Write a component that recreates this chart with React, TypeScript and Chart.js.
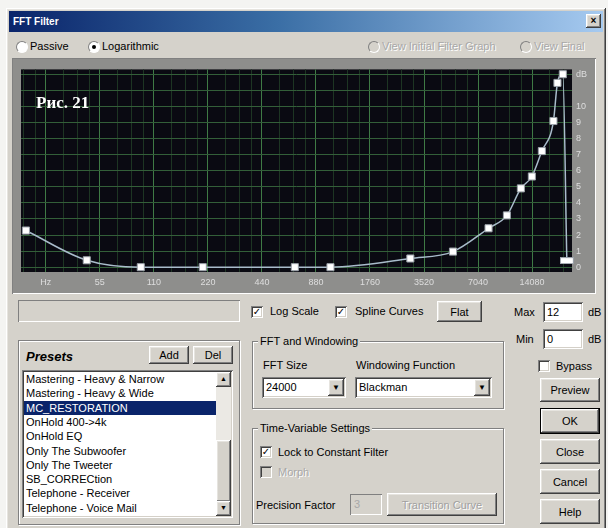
import React, { useEffect, useRef } from "react";
import { Chart, registerables } from "chart.js";
Chart.register(...registerables);

// ---- chart data ----
const freqHz = [21.3, 46.5, 93, 206, 671, 1060, 2954, 5104, 8055, 10194, 12196, 14042, 15964, 18524, 19500, 20889, 21992];
const gainDb = [2.28, 0.43, 0, 0, 0, 0, 0.54, 0.97, 2.42, 3.22, 4.9, 5.64, 7.22, 9.09, 11.46, 12, 0.41];
const octaveTicks = [27.5, 55, 110, 220, 440, 880, 1760, 3520, 7040, 14080];
const octaveLabels = ["Hz", "55", "110", "220", "440", "880", "1760", "3520", "7040", "14080"];
const minorSteps = [1.25, 1.5, 1.75];
const dbTicks = [0, 1, 2, 3, 4, 5, 6, 7, 8, 9, 10, 11, 12];
const dbLabels = ["0", "1", "2", "3", "4", "5", "6", "7", "8", "9", "10", "", "dB"];
const presets = [
  "Mastering - Heavy & Narrow",
  "Mastering - Heavy & Wide",
  "MC_RESTORATION",
  "OnHold 400->4k",
  "OnHold EQ",
  "Only The Subwoofer",
  "Only The Tweeter",
  "SB_CORRECtion",
  "Telephone - Receiver",
  "Telephone - Voice Mail",
];
const selectedPreset = "MC_RESTORATION";

const X_MIN = 20;
const X_MAX = 23500;

const FONT = "'Liberation Sans', Arial, sans-serif";
const FACE = "#d5d2cb";

const abs = (x: number, y: number, w?: number, h?: number): React.CSSProperties => ({
  position: "absolute",
  left: x,
  top: y,
  width: w,
  height: h,
  boxSizing: "border-box",
});

const raised: React.CSSProperties = {
  background: FACE,
  boxShadow: "inset -1px -1px #404040, inset 1px 1px #ffffff, inset -2px -2px #808080, inset 2px 2px #e6e4df",
};
const sunken: React.CSSProperties = {
  background: "#ffffff",
  boxShadow: "inset 1px 1px #808080, inset -1px -1px #ffffff, inset 2px 2px #404040, inset -2px -2px #d4d0c8",
};

function Txt(p: { x: number; y: number; children: React.ReactNode; style?: React.CSSProperties }) {
  return (
    <div style={{ ...abs(p.x, p.y), fontFamily: FONT, fontSize: 11, lineHeight: "13px", whiteSpace: "nowrap", color: "#000", ...p.style }}>
      {p.children}
    </div>
  );
}

function Btn(p: { x: number; y: number; w: number; h: number; label: string; def?: boolean; disabled?: boolean }) {
  return (
    <div
      style={{
        ...abs(p.x, p.y, p.w, p.h),
        ...raised,
        border: p.def ? "1px solid #000" : undefined,
        fontFamily: FONT,
        fontSize: 11,
        display: "flex",
        alignItems: "center",
        justifyContent: "center",
        color: p.disabled ? "#a0a0a0" : "#000",
        textShadow: p.disabled ? "1px 1px #fff" : undefined,
      }}
    >
      {p.label}
    </div>
  );
}

function Check(p: { x: number; y: number; checked?: boolean; disabled?: boolean }) {
  return (
    <div
      style={{
        ...abs(p.x, p.y, 12, 12),
        ...sunken,
        background: p.disabled ? FACE : "#fff",
        fontFamily: "'DejaVu Sans', sans-serif",
        fontSize: 10,
        lineHeight: "12px",
        textAlign: "center",
        fontWeight: "bold",
      }}
    >
      {p.checked ? "✓" : ""}
    </div>
  );
}

function Radio(p: { x: number; y: number; checked?: boolean; disabled?: boolean }) {
  return (
    <div
      style={{
        ...abs(p.x, p.y, 12, 12),
        borderRadius: 6,
        background: p.disabled ? FACE : "#fff",
        border: "1px solid",
        borderColor: "#808080 #fff #fff #808080",
      }}
    >
      {p.checked ? (
        <div style={{ ...abs(3, 3, 4, 4), borderRadius: 2, background: "#000" }} />
      ) : null}
    </div>
  );
}

function Group(p: { x: number; y: number; w: number; h: number; title: string }) {
  return (
    <>
      <div style={{ ...abs(p.x, p.y, p.w, p.h), border: "1px solid #808080", boxShadow: "1px 1px #fff, inset 1px 1px #fff" }} />
      {p.title ? (
        <Txt x={p.x + 6} y={p.y - 6} style={{ background: FACE, padding: "0 2px" }}>
          {p.title}
        </Txt>
      ) : null}
    </>
  );
}

function Combo(p: { x: number; y: number; w: number; value: string }) {
  return (
    <div style={{ ...abs(p.x, p.y, p.w, 21), ...sunken }}>
      <Txt x={4} y={4}>{p.value}</Txt>
      <div style={{ ...abs(p.w - 18, 2, 16, 17), ...raised, fontSize: 8, display: "flex", alignItems: "center", justifyContent: "center" }}>▼</div>
    </div>
  );
}

function FilterChart() {
  const ref = useRef<HTMLCanvasElement | null>(null);
  useEffect(() => {
    const canvas = ref.current;
    if (!canvas) return;

    const allTicks: { value: number; major: boolean }[] = [];
    const bases = [octaveTicks[0] / 2, ...octaveTicks];
    bases.forEach((b) => {
      if (b >= X_MIN && b <= X_MAX) allTicks.push({ value: b, major: octaveTicks.includes(b) });
      minorSteps.forEach((m) => {
        const v = b * m;
        if (v >= X_MIN && v <= X_MAX) allTicks.push({ value: v, major: false });
      });
    });
    allTicks.sort((a, b) => a.value - b.value);

    const wide = document.createElement("canvas");
    wide.width = 14;
    wide.height = 7;
    const wctx = wide.getContext("2d")!;
    wctx.fillStyle = "#ffffff";
    wctx.fillRect(0, 0, 14, 7);
    wctx.strokeStyle = "#9aa0a8";
    wctx.strokeRect(0.5, 0.5, 13, 6);

    const bgPlugin = {
      id: "bg",
      beforeDraw(chart: any) {
        const { ctx, chartArea } = chart;
        ctx.save();
        ctx.fillStyle = "#8e8e8c";
        ctx.fillRect(0, 0, chart.width, chart.height);
        ctx.fillStyle = "#0a0a12";
        ctx.fillRect(chartArea.left, chartArea.top, chartArea.right - chartArea.left, chartArea.bottom - chartArea.top);
        ctx.restore();
      },
    };

    const last = freqHz.length - 1;
    const chart = new Chart(canvas, {
      type: "line",
      data: {
        datasets: [
          {
            data: freqHz.map((f, i) => ({ x: f, y: gainDb[i] })),
            borderColor: "#a9bccb",
            borderWidth: 1.5,
            cubicInterpolationMode: "monotone",
            pointStyle: (ctx: any) => (ctx.dataIndex === last ? wide : "rect"),
            pointRadius: 5,
            pointBackgroundColor: "#ffffff",
            pointBorderColor: "#9aa0a8",
            pointBorderWidth: 1,
            clip: false as any,
          },
        ],
      },
      options: {
        animation: false,
        responsive: false,
        devicePixelRatio: 1,
        layout: { padding: { left: 7, top: 7, right: 2, bottom: 0 } },
        plugins: { legend: { display: false }, tooltip: { enabled: false } },
        scales: {
          x: {
            type: "logarithmic",
            min: X_MIN,
            max: X_MAX,
            afterBuildTicks: (scale: any) => {
              scale.ticks = allTicks.map((t) => ({ value: t.value, major: t.major }));
            },
            afterFit: (scale: any) => {
              scale.height = 20;
            },
            border: { display: false },
            grid: {
              drawTicks: false,
              lineWidth: 1,
              color: (ctx: any) =>
                ctx.tick && octaveTicks.includes(ctx.tick.value) ? "#3f7a45" : "#1d3523",
            },
            ticks: {
              autoSkip: false,
              maxRotation: 0,
              padding: 5,
              color: "#dedede",
              font: { family: "'Liberation Sans', Arial", size: 9 },
              callback: (v: any) => {
                const i = octaveTicks.indexOf(Number(v));
                return i >= 0 ? octaveLabels[i] : "";
              },
            },
          },
          y: {
            type: "linear",
            position: "right",
            min: -0.3,
            max: 12.3,
            afterBuildTicks: (scale: any) => {
              scale.ticks = dbTicks.map((v) => ({ value: v }));
            },
            afterFit: (scale: any) => {
              scale.width = 20;
            },
            border: { display: false },
            grid: { drawTicks: false, color: "#335f39", lineWidth: 1 },
            ticks: {
              padding: 4,
              color: "#dedede",
              font: { family: "'Liberation Sans', Arial", size: 9 },
              callback: (v: any) => {
                const i = dbTicks.indexOf(Number(v));
                return i >= 0 ? dbLabels[i] : "";
              },
            },
          },
        },
      } as any,
      plugins: [bgPlugin],
    });
    return () => chart.destroy();
  }, []);
  return <canvas ref={ref} width={580} height={232} style={{ display: "block" }} />;
}

export default function App() {
  return (
    <div style={{ position: "fixed", left: 0, top: 0, width: 608, height: 528, background: "#f4f4f2", overflow: "hidden" }}>
      {/* dialog */}
      <div style={{ ...abs(6, 8, 600, 530), ...raised }} />
      {/* title bar */}
      <div style={{ ...abs(9, 11, 594, 21), background: "linear-gradient(to right, #0a246a 0%, #3a6ea5 45%, #a6caf0 100%)" }} />
      <Txt x={13} y={15} style={{ color: "#fff", fontWeight: "bold", fontSize: 10 }}>FFT Filter</Txt>
      <div style={{ ...abs(586, 14, 15, 14), ...raised, fontFamily: FONT, fontSize: 10, fontWeight: "bold", textAlign: "center", lineHeight: "14px" }}>×</div>

      {/* radio row */}
      <Radio x={16} y={41} />
      <Txt x={30} y={40}>Passive</Txt>
      <Radio x={88} y={41} checked />
      <Txt x={102} y={40}>Logarithmic</Txt>
      <Radio x={368} y={41} disabled />
      <Txt x={382} y={40} style={{ color: "#a8a8a8", textShadow: "1px 1px #fff" }}>View Initial Filter Graph</Txt>
      <Radio x={520} y={41} disabled />
      <Txt x={534} y={40} style={{ color: "#a8a8a8", textShadow: "1px 1px #fff" }}>View Final</Txt>

      {/* chart frame */}
      <div style={{ ...abs(12, 58, 584, 236), boxShadow: "inset 1px 1px #808080, inset -1px -1px #fff", background: "#8e8e8c" }} />
      <div style={{ ...abs(14, 60, 580, 232) }}>
        <FilterChart />
      </div>
      <div style={{ ...abs(36, 93), fontFamily: "'Liberation Serif', 'Times New Roman', serif", fontWeight: "bold", fontSize: 17, color: "#ffffff", whiteSpace: "nowrap" }}>
        Рис. 21
      </div>

      {/* status field */}
      <div style={{ ...abs(18, 300, 222, 22), background: FACE, boxShadow: "inset 1px 1px #808080, inset -1px -1px #fff" }} />

      {/* log scale / spline / flat */}
      <Check x={251} y={306} checked />
      <Txt x={270} y={305}>Log Scale</Txt>
      <Check x={335} y={306} checked />
      <Txt x={355} y={305}>Spline Curves</Txt>
      <Btn x={437} y={301} w={45} h={21} label="Flat" />

      {/* max/min */}
      <Txt x={514} y={306}>Max</Txt>
      <div style={{ ...abs(543, 302, 40, 20), ...sunken }}>
        <Txt x={4} y={4}>12</Txt>
      </div>
      <Txt x={588} y={306}>dB</Txt>
      <Txt x={516} y={333}>Min</Txt>
      <div style={{ ...abs(543, 329, 40, 20), ...sunken }}>
        <Txt x={4} y={4}>0</Txt>
      </div>
      <Txt x={588} y={333}>dB</Txt>

      {/* presets */}
      <Group x={18} y={340} w={222} h={185} title="" />
      <Txt x={26} y={349} style={{ fontSize: 13, fontWeight: "bold", fontStyle: "italic", lineHeight: "16px" }}>Presets</Txt>
      <Btn x={149} y={346} w={40} h={18} label="Add" />
      <Btn x={193} y={346} w={40} h={18} label="Del" />
      <div style={{ ...abs(22, 370, 211, 148), ...sunken, overflow: "hidden" }}>
        {presets.map((p, i) => (
          <div
            key={p}
            style={{
              ...abs(2, 2 + i * 14.3, 192, 14),
              fontFamily: FONT,
              fontSize: 11,
              lineHeight: "14px",
              paddingLeft: 2,
              whiteSpace: "nowrap",
              background: p === selectedPreset ? "#0a246a" : undefined,
              color: p === selectedPreset ? "#fff" : "#000",
            }}
          >
            {p}
          </div>
        ))}
        <div style={{ ...abs(194, 2, 15, 144), background: "#ebe9e4" }} />
        <div style={{ ...abs(194, 2, 15, 15), ...raised, fontSize: 7, textAlign: "center", lineHeight: "15px" }}>▲</div>
        <div style={{ ...abs(194, 70, 15, 62), ...raised }} />
        <div style={{ ...abs(194, 131, 15, 15), ...raised, fontSize: 7, textAlign: "center", lineHeight: "15px" }}>▼</div>
      </div>

      {/* FFT and windowing */}
      <Group x={252} y={341} w={252} h={68} title="FFT and Windowing" />
      <Txt x={263} y={359}>FFT Size</Txt>
      <Txt x={356} y={359}>Windowing Function</Txt>
      <Combo x={262} y={377} w={84} value="24000" />
      <Combo x={355} y={377} w={137} value="Blackman" />

      {/* time variable */}
      <Group x={252} y={428} w={252} h={96} title="Time-Variable Settings" />
      <Check x={260} y={446} checked />
      <Txt x={278} y={446}>Lock to Constant Filter</Txt>
      <Check x={260} y={466} disabled />
      <Txt x={278} y={466} style={{ color: "#a8a8a8", textShadow: "1px 1px #fff" }}>Morph</Txt>
      <Txt x={256} y={499}>Precision Factor</Txt>
      <div style={{ ...abs(350, 494, 32, 21), background: FACE, boxShadow: "inset 1px 1px #808080, inset -1px -1px #fff" }}>
        <Txt x={4} y={4} style={{ color: "#a8a8a8" }}>3</Txt>
      </div>
      <Btn x={387} y={493} w={110} h={23} label="Transition Curve" disabled />

      {/* right column */}
      <Check x={538} y={360} />
      <Txt x={556} y={360}>Bypass</Txt>
      <Btn x={540} y={378} w={60} h={24} label="Preview" />
      <Btn x={540} y={408} w={60} h={26} label="OK" def />
      <Btn x={540} y={439} w={60} h={25} label="Close" />
      <Btn x={540} y={469} w={60} h={25} label="Cancel" />
      <Btn x={540} y={499} w={60} h={25} label="Help" />
    </div>
  );
}
